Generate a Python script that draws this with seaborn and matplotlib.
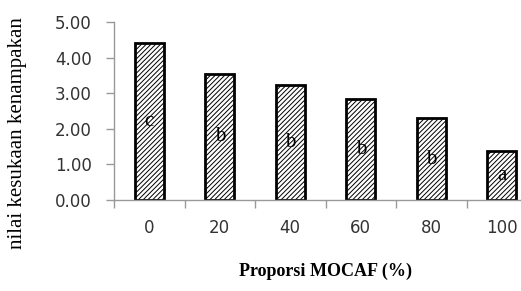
import matplotlib
matplotlib.use("Agg")
import matplotlib.pyplot as plt
import seaborn as sns
import pandas as pd

categories = ["0", "20", "40", "60", "80", "100"]
values = [4.41, 3.54, 3.23, 2.84, 2.30, 1.38]
letters = ["c", "b", "b", "b", "b", "a"]
yticks = [0, 1, 2, 3, 4, 5]
ytick_labels = ["0.00", "1.00", "2.00", "3.00", "4.00", "5.00"]

sns.set_theme(style="white")
plt.rcParams["hatch.color"] = "#666666"
plt.rcParams["hatch.linewidth"] = 0.7

df = pd.DataFrame({"cat": categories, "val": values})

fig = plt.figure(figsize=(5.21, 2.91), dpi=100)
ax = fig.add_axes([114 / 521, 1 - 200 / 291, 423 / 521, 178 / 291])

sns.barplot(data=df, x="cat", y="val", ax=ax, color="white", width=0.41,
            edgecolor="black", linewidth=2.0, hatch="///////", saturation=1)

for i, (v, l) in enumerate(zip(values, letters)):
    ax.text(i, v / 2, l, ha="center", va="center", fontsize=15,
            family="Liberation Serif", color="black", zorder=5)

ax.set_xlim(-0.5, 5.5)
ax.set_ylim(0, 5)
ax.set_yticks(yticks)
ax.set_yticklabels(ytick_labels, fontsize=12, color="#333333", family="DejaVu Sans")
ax.set_xticks(range(len(categories)))
ax.set_xticklabels(categories, fontsize=12, color="#333333", family="DejaVu Sans")
ax.set_xticks([i - 0.5 for i in range(len(categories) + 1)], minor=True)
ax.tick_params(axis="x", which="major", length=0, pad=14)
ax.tick_params(axis="x", which="minor", length=6, width=1, color="#999999", direction="out", bottom=True)
ax.tick_params(axis="y", length=6, width=1, color="#999999", direction="out", left=True, pad=10)

for s in ["top", "right"]:
    ax.spines[s].set_visible(False)
for s in ["left", "bottom"]:
    ax.spines[s].set_color("#999999")
    ax.spines[s].set_linewidth(1)

ax.set_ylabel("nilai kesukaan kenampakan", fontsize=15, family="Liberation Serif",
              color="black")
ax.yaxis.set_label_coords(-87 / 423, 67 / 178)
ax.set_xlabel("Proporsi MOCAF (%)", fontsize=13, family="Liberation Serif",
              fontweight="bold", color="black")
ax.xaxis.set_label_coords(0.5, -63 / 178)

fig.savefig("out.png", dpi=100)
